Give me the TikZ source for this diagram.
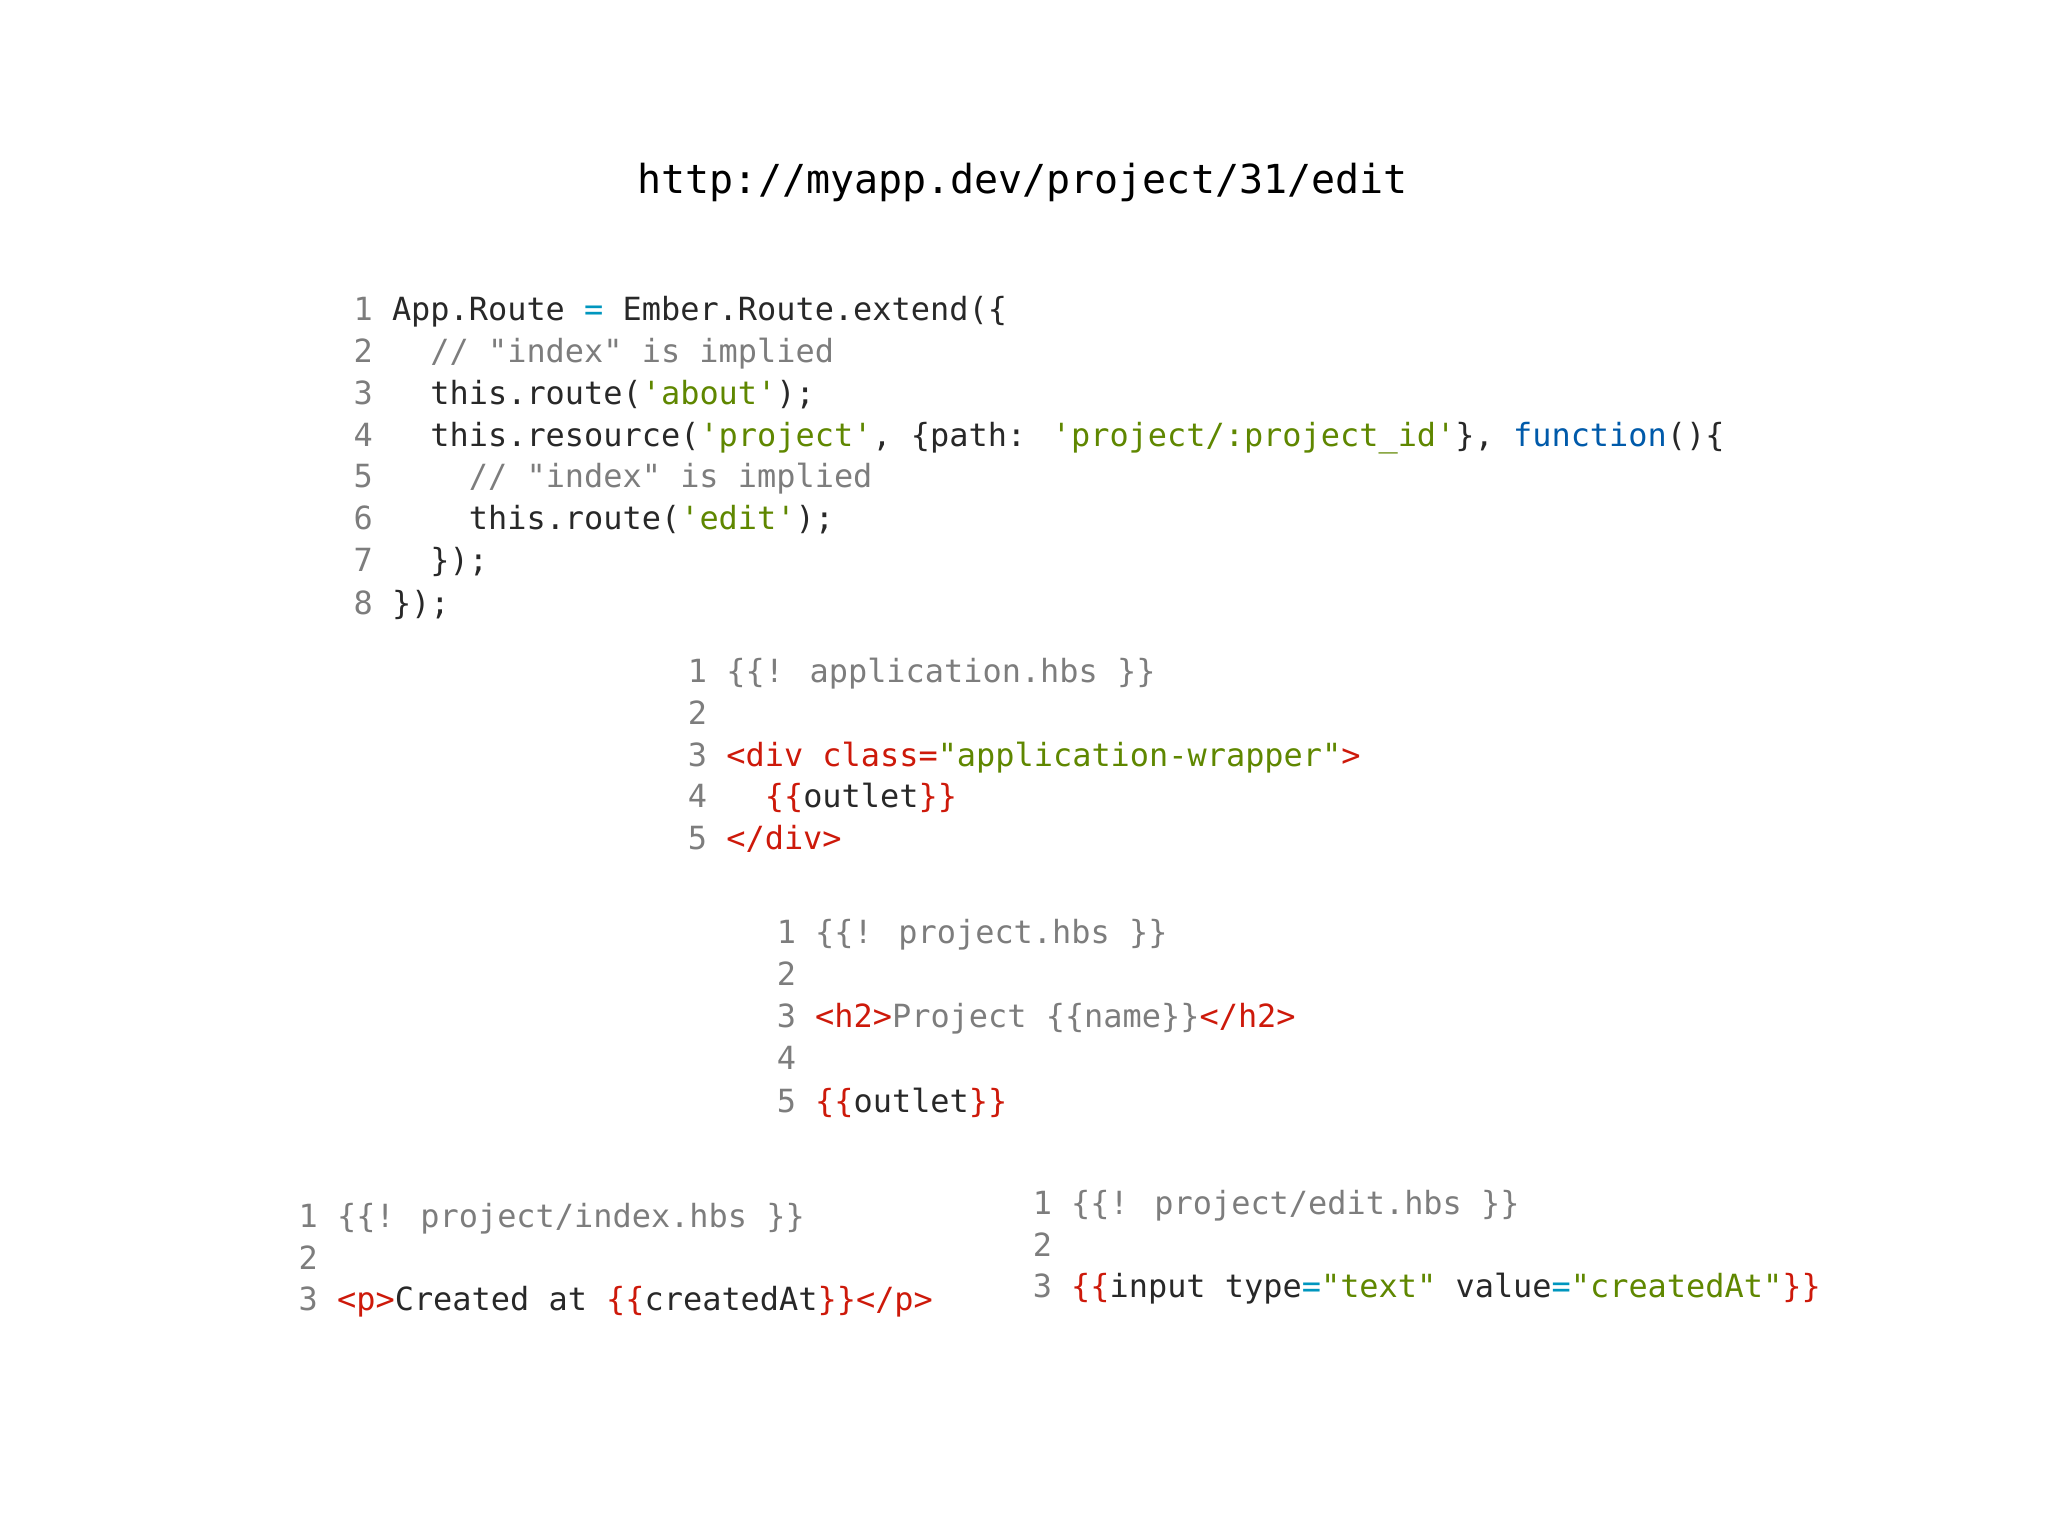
\documentclass[tikz,border=0pt]{standalone}
\usepackage{fontspec}
\newfontfamily\cf{DejaVu Sans Mono}
\definecolor{cgray}{RGB}{125,125,125}
\definecolor{cgreen}{RGB}{95,135,0}
\definecolor{cred}{RGB}{205,25,10}
\definecolor{cblue}{RGB}{0,90,170}
\definecolor{cteal}{RGB}{0,150,190}
\definecolor{ctext}{RGB}{40,40,40}
\newcommand{\gr}[1]{\textcolor{cgray}{#1}}
\newcommand{\gn}[1]{\textcolor{cgreen}{#1}}
\newcommand{\rd}[1]{\textcolor{cred}{#1}}
\newcommand{\bl}[1]{\textcolor{cblue}{#1}}
\newcommand{\tl}[1]{\textcolor{cteal}{#1}}
\tikzset{codeline/.style={anchor=west,inner sep=0pt,text=ctext,font=\cf\fontsize{6.95}{8}\selectfont}}
\newcommand{\cl}[4]{\node[codeline] (#1) at (#2,#3) {\strut#4};}
\begin{document}
\begin{tikzpicture}[x=0.01cm,y=-0.01cm]
\useasboundingbox (0,0) rectangle (1568,1176);
\node[inner sep=0pt,text=black,font=\cf\fontsize{8.7}{10}\selectfont] (title) at (783,140) {http://myapp.dev/project/31/edit};
% block 1
\cl{a1}{270}{240}{\gr{1} App.Route \tl{=} Ember.Route.extend(\{}
\cl{a2}{270}{272}{\gr{2} ~~\gr{// "index" is implied}}
\cl{a3}{270}{304}{\gr{3} ~~this.route(\gn{'about'});}
\cl{a4}{270}{336}{\gr{4} ~~this.resource(\gn{'project'}, \{path: \gn{'project/:project\_id'}\}, \bl{function}()\{}
\cl{a5}{270}{368}{\gr{5} ~~~~\gr{// "index" is implied}}
\cl{a6}{270}{400}{\gr{6} ~~~~this.route(\gn{'edit'});}
\cl{a7}{270}{432}{\gr{7} ~~\});}
\cl{a8}{270}{465}{\gr{8} \});}
% block 2
\cl{b1}{526}{517}{\gr{1 \{\{! application.hbs \}\}}}
\cl{b2}{526}{549}{\gr{2}}
\cl{b3}{526}{581}{\gr{3} \rd{<div class=}\gn{"application-wrapper"}\rd{>}}
\cl{b4}{526}{613}{\gr{4} ~~\rd{\{\{}outlet\rd{\}\}}}
\cl{b5}{526}{645}{\gr{5} \rd{</div>}}
% block 3
\cl{c1}{594}{717}{\gr{1 \{\{! project.hbs \}\}}}
\cl{c2}{594}{749}{\gr{2}}
\cl{c3}{594}{781}{\gr{3} \rd{<h2>}\gr{Project \{\{name\}\}}\rd{</h2>}}
\cl{c4}{594}{813}{\gr{4}}
\cl{c5}{594}{846}{\gr{5} \rd{\{\{}outlet\rd{\}\}}}
% block 4
\cl{d1}{228}{934}{\gr{1 \{\{! project/index.hbs \}\}}}
\cl{d2}{228}{966}{\gr{2}}
\cl{d3}{228}{998}{\gr{3} \rd{<p>}Created at \rd{\{\{}createdAt\rd{\}\}</p>}}
% block 5
\cl{e1}{790}{924}{\gr{1 \{\{! project/edit.hbs \}\}}}
\cl{e2}{790}{956}{\gr{2}}
\cl{e3}{790}{988}{\gr{3} \rd{\{\{}input type\tl{=}\gn{"text"} value\tl{=}\gn{"createdAt"}\rd{\}\}}}
\end{tikzpicture}
\end{document}
